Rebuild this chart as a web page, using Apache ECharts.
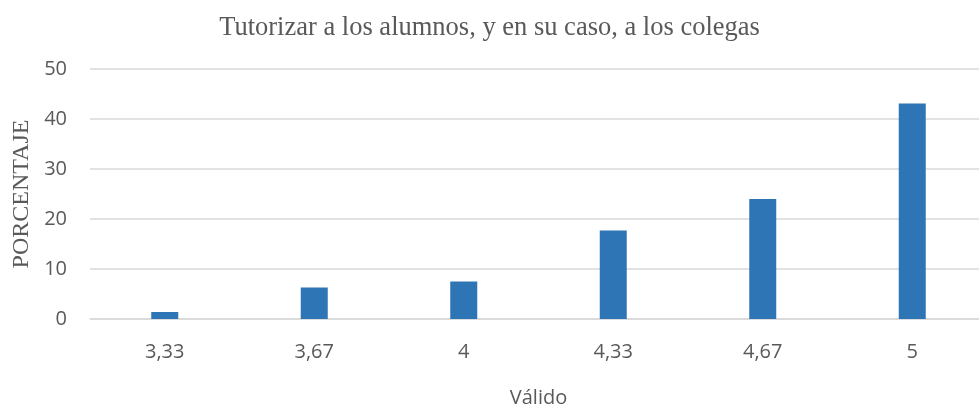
<!DOCTYPE html>
<html>
<head>
<meta charset="utf-8">
<script src="https://cdn.jsdelivr.net/npm/echarts@6/dist/echarts.min.js"></script>
<style>
  html, body { margin: 0; padding: 0; background: #fff; }
  #chart { width: 979px; height: 408px; }
</style>
</head>
<body>
<div id="chart"></div>
<script>
  // categorías y porcentajes
  const categories = ['3,33', '3,67', '4', '4,33', '4,67', '5'];
  const percentages = [1.4, 6.3, 7.5, 17.7, 24.0, 43.1];
  const yTicks = { min: 0, max: 50, interval: 10 };

  const chart = echarts.init(document.getElementById('chart'));
  chart.setOption({
    backgroundColor: '#fff',
    animation: false,
    title: {
      text: 'Tutorizar a los alumnos, y en su caso, a los colegas',
      left: 'center',
      top: 10,
      textStyle: {
        fontFamily: 'Liberation Serif',
        fontWeight: 'normal',
        fontSize: 26.5,
        color: '#595959'
      }
    },
    grid: {
      left: 90,
      width: 897,
      top: 69,
      bottom: 89,
      outerBoundsMode: 'none',
      containLabel: false
    },
    xAxis: {
      type: 'category',
      data: categories,
      name: 'Válido',
      nameLocation: 'middle',
      nameGap: 69,
      nameTextStyle: { fontFamily: 'Open Sans', fontSize: 20, color: '#595959' },
      axisLine: { lineStyle: { color: '#d9d9d9', width: 1.5 } },
      axisTick: { show: false },
      axisLabel: { fontFamily: 'Open Sans', fontSize: 20, color: '#595959', margin: 23 }
    },
    yAxis: {
      type: 'value',
      min: yTicks.min,
      max: yTicks.max,
      interval: yTicks.interval,
      name: 'PORCENTAJE',
      nameLocation: 'middle',
      nameGap: 56,
      nameTextStyle: { fontFamily: 'Liberation Serif', fontSize: 24, color: '#595959' },
      axisLine: { show: false },
      axisTick: { show: false },
      axisLabel: { fontFamily: 'Open Sans', fontSize: 20, color: '#595959', margin: 23 },
      splitLine: { lineStyle: { color: '#d9d9d9', width: 1.5 } }
    },
    series: [{
      type: 'bar',
      data: percentages,
      barWidth: 27,
      itemStyle: { color: '#2E75B6' }
    }]
  });
</script>
</body>
</html>
